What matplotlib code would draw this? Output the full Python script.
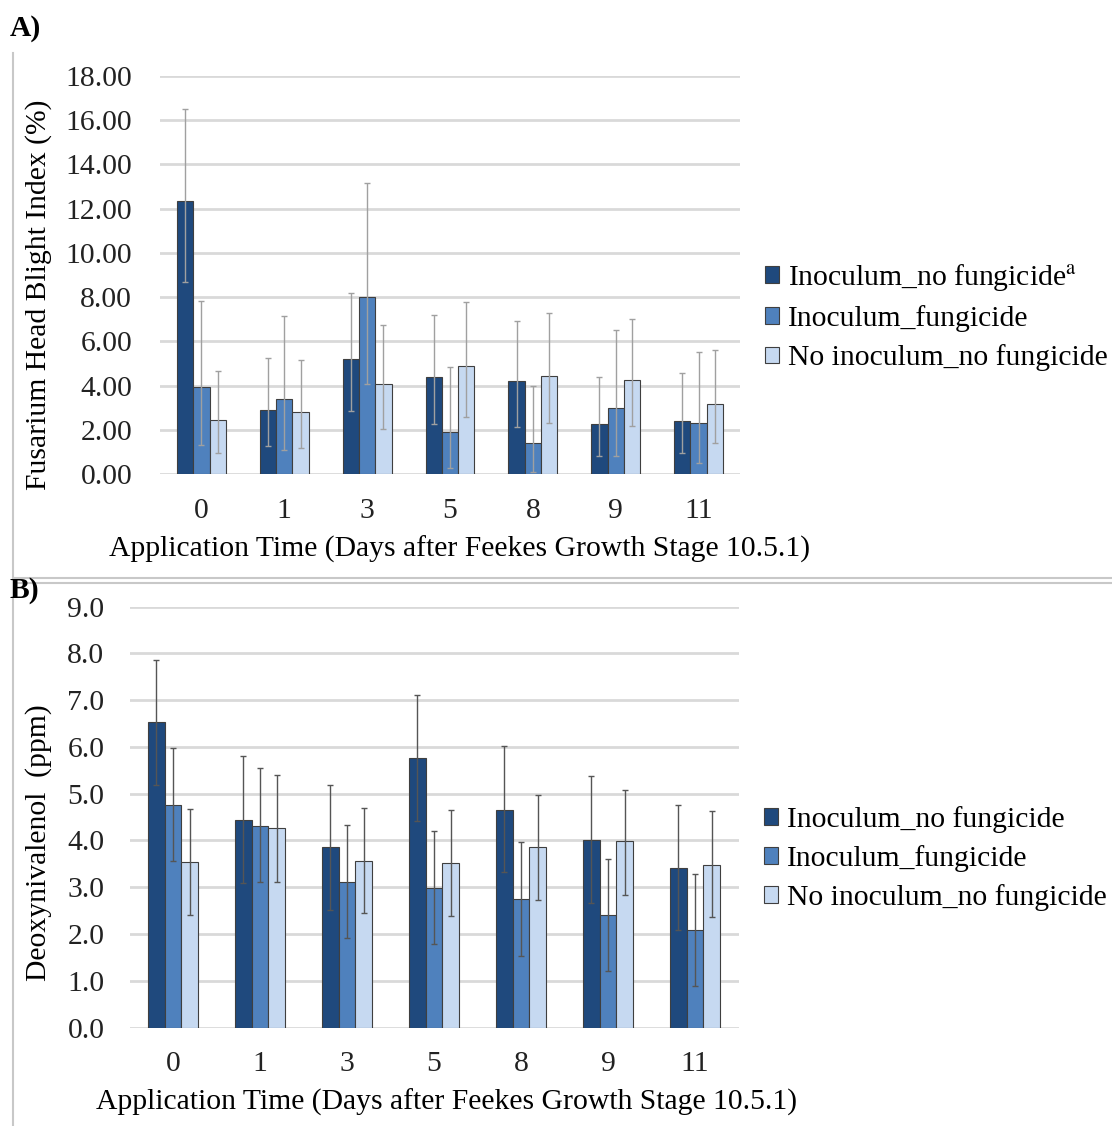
import matplotlib
matplotlib.use("Agg")
import matplotlib.pyplot as plt
import numpy as np
from matplotlib.lines import Line2D

plt.rcParams['font.family'] = ['Liberation Serif', 'DejaVu Serif']
plt.rcParams['mathtext.fontset'] = 'stix'

FS = 21.3

# application time (days after Feekes 10.5.1)
days = ['0', '1', '3', '5', '8', '9', '11']
treatments = ['Inoculum_no fungicide', 'Inoculum_fungicide', 'No inoculum_no fungicide']
colors = ['#1f497d', '#4f81bd', '#c6d9f1']

# A) FHB index (%) - means with upper / lower ends of the error bars
fhb_inoc_nofung = [12.35, 2.90, 5.22, 4.40, 4.22, 2.26, 2.40]
fhb_inoc_nofung_hi = [16.50, 5.26, 8.18, 7.18, 6.94, 4.37, 4.57]
fhb_inoc_nofung_lo = [8.70, 1.27, 2.85, 2.28, 2.13, 0.83, 0.95]

fhb_inoc_fung = [3.94, 3.41, 8.01, 1.91, 1.39, 3.00, 2.32]
fhb_inoc_fung_hi = [7.83, 7.16, 13.15, 4.86, 4.00, 6.53, 5.51]
fhb_inoc_fung_lo = [1.31, 1.07, 4.09, 0.29, 0.10, 0.83, 0.48]

fhb_noinoc_nofung = [2.46, 2.82, 4.07, 4.89, 4.45, 4.27, 3.17]
fhb_noinoc_nofung_hi = [4.66, 5.16, 6.74, 7.80, 7.27, 7.01, 5.60]
fhb_noinoc_nofung_lo = [0.95, 1.18, 2.02, 2.59, 2.31, 2.16, 1.42]

# B) DON (ppm)
don_inoc_nofung = [6.53, 4.44, 3.85, 5.76, 4.66, 4.01, 3.41]
don_inoc_nofung_hi = [7.87, 5.80, 5.18, 7.11, 6.01, 5.37, 4.76]
don_inoc_nofung_lo = [5.18, 3.10, 2.51, 4.41, 3.32, 2.67, 2.08]

don_inoc_fung = [4.76, 4.32, 3.11, 2.99, 2.75, 2.41, 2.09]
don_inoc_fung_hi = [5.98, 5.54, 4.33, 4.20, 3.96, 3.61, 3.29]
don_inoc_fung_lo = [3.57, 3.12, 1.91, 1.78, 1.53, 1.21, 0.88]

don_noinoc_nofung = [3.54, 4.26, 3.57, 3.51, 3.85, 3.98, 3.48]
don_noinoc_nofung_hi = [4.68, 5.39, 4.69, 4.65, 4.97, 5.09, 4.63]
don_noinoc_nofung_lo = [2.41, 3.12, 2.44, 2.39, 2.72, 2.84, 2.37]

W, H = 1112, 1126
fig = plt.figure(figsize=(W / 100, H / 100), dpi=100)


def px(x0, y0, x1, y1):
    # pixel box -> figure fraction rect
    return [x0 / W, 1 - y1 / H, (x1 - x0) / W, (y1 - y0) / H]


def draw_panel(ax, series, width, ymax, ystep, fmt, errcolor, tickpad):
    x = np.arange(len(days))
    for i, (mean, hi, lo) in enumerate(series):
        mean = np.array(mean)
        yerr = [mean - np.array(lo), np.array(hi) - mean]
        ax.bar(x + (i - 1) * width, mean, width, color=colors[i],
               edgecolor='#3f3f3f', linewidth=0.8, label=treatments[i], zorder=3)
        ax.errorbar(x + (i - 1) * width, mean, yerr=yerr, fmt='none',
                    ecolor=errcolor, elinewidth=1.0, capsize=2.5, capthick=1.0, zorder=4)
    ax.set_xlim(-0.5, len(days) - 0.5)
    ax.set_ylim(0, ymax)
    ticks = np.arange(0, ymax + ystep / 2, ystep)
    ax.set_yticks(ticks)
    ax.set_yticklabels([fmt.format(t) for t in ticks])
    ax.set_xticks(x)
    ax.set_xticklabels(days)
    ax.tick_params(axis='both', length=0, labelsize=FS, colors='#222222')
    ax.tick_params(axis='y', pad=tickpad)
    ax.tick_params(axis='x', pad=17)
    for s in ax.spines.values():
        s.set_visible(False)
    ax.yaxis.grid(True, color='#d9d9d9', linewidth=2.0, zorder=0)
    ax.set_axisbelow(True)


def add_legend(handles, labels, x0, y0):
    fig.legend(handles, labels, loc='upper left', bbox_to_anchor=(x0 / W, 1 - y0 / H),
               frameon=False, fontsize=FS, handlelength=0.47, handleheight=0.47,
               handletextpad=0.3, labelspacing=0.41, borderpad=0, borderaxespad=0)


# ---- panel A ----
axA = fig.add_axes(px(160, 76, 740, 474))
draw_panel(axA, [(fhb_inoc_nofung, fhb_inoc_nofung_hi, fhb_inoc_nofung_lo),
                 (fhb_inoc_fung, fhb_inoc_fung_hi, fhb_inoc_fung_lo),
                 (fhb_noinoc_nofung, fhb_noinoc_nofung_hi, fhb_noinoc_nofung_lo)],
           0.197, 18, 2, '{:.2f}', '#a0a0a0', 20)
axA.text(-0.21, 0.45, 'Fusarium Head Blight Index (%)', transform=axA.transAxes,
         rotation=90, ha='center', va='center', fontsize=FS)
axA.text(0.516, -0.19, 'Application Time (Days after Feekes Growth Stage 10.5.1)',
         transform=axA.transAxes, ha='center', va='center', fontsize=FS)
hA, lA = axA.get_legend_handles_labels()
lA[0] = lA[0] + r'$^{\mathrm{a}}$'
add_legend(hA, lA, 765, 262)

# ---- panel B ----
axB = fig.add_axes(px(129.5, 606.7, 738.5, 1027.5))
draw_panel(axB, [(don_inoc_nofung, don_inoc_nofung_hi, don_inoc_nofung_lo),
                 (don_inoc_fung, don_inoc_fung_hi, don_inoc_fung_lo),
                 (don_noinoc_nofung, don_noinoc_nofung_hi, don_noinoc_nofung_lo)],
           0.19, 9, 1, '{:.1f}', '#555555', 18)
axB.text(-0.150, 0.44, 'Deoxynivalenol  (ppm)', transform=axB.transAxes,
         rotation=90, ha='center', va='center', fontsize=FS)
axB.text(0.521, -0.178, 'Application Time (Days after Feekes Growth Stage 10.5.1)',
         transform=axB.transAxes, ha='center', va='center', fontsize=FS)
hB, lB = axB.get_legend_handles_labels()
add_legend(hB, lB, 764, 806)

# panel letters and frame lines
fig.text(10 / W, 1 - 28 / H, 'A)', fontsize=FS, fontweight='bold', va='center')
fig.text(10 / W, 1 - 590 / H, 'B)', fontsize=FS, fontweight='bold', va='center')
fig.add_artist(Line2D([12.5 / W, 12.5 / W], [1 - 53 / H, 0], color='#c8c8c8', lw=1.5))
for yy in (578, 583):
    fig.add_artist(Line2D([12.5 / W, 1], [1 - yy / H, 1 - yy / H], color='#c8c8c8', lw=1.5))

fig.savefig('out.png', dpi=100)
